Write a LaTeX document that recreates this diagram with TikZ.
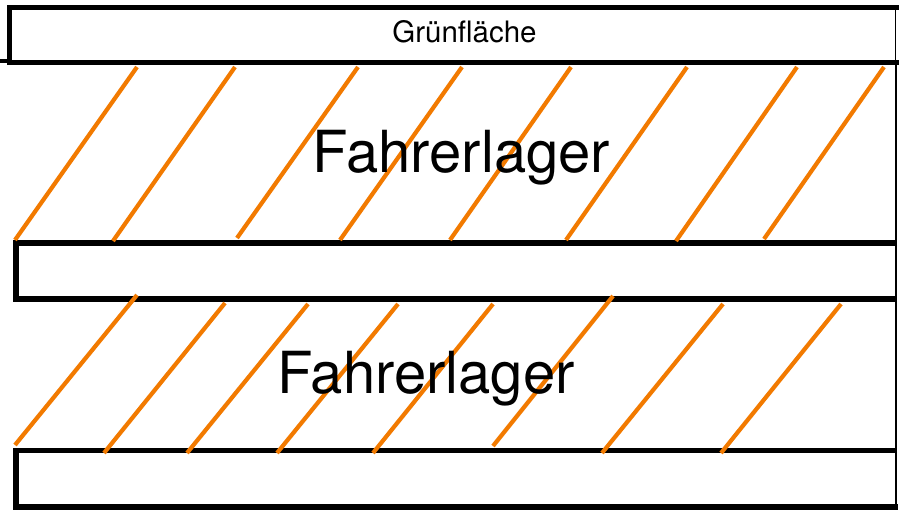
\documentclass[tikz,border=0pt]{standalone}
\usepackage{fontspec}
\setmainfont{TeX Gyre Heros}
\definecolor{hatch}{RGB}{242,122,0}
\begin{document}
\begin{tikzpicture}[x=1pt,y=-1pt,
  boxline/.style={draw=black,line width=5.5pt,line join=miter},
  edgeline/.style={draw=black,line width=2.7pt},
  hatchline/.style={draw=hatch,line width=4.2pt},
  bigtext/.style={anchor=base,inner sep=0pt,font=\fontsize{58}{58}\selectfont},
  smalltext/.style={anchor=base,inner sep=0pt,font=\fontsize{29.5}{29.5}\selectfont}]
\useasboundingbox[fill=white] (0,0) rectangle (899,517);
% boxes
\draw[boxline] (899,7.5) -- (9.5,7.5) -- (9.5,62.5) -- (899,62.5);
\draw[draw=black,line width=4pt] (0,61) -- (10,61);
\draw[draw=black,line width=1.3pt] (895.5,7.5) -- (895.5,62.5);
\draw[edgeline] (896,62.5) -- (896,509.5);
\draw[boxline] (897,243) -- (16,243) -- (16,299) -- (897,299);
\draw[boxline] (897,450.5) -- (16,450.5) -- (16,507) -- (897.5,507);
% upper hatching
\draw[hatchline] (15,240) -- (137,67);
\draw[hatchline] (113,241) -- (235,67);
\draw[hatchline] (237,238) -- (358,67);
\draw[hatchline] (340,240) -- (462,67);
\draw[hatchline] (450,240) -- (571,67);
\draw[hatchline] (566,240) -- (687,67);
\draw[hatchline] (676,241) -- (797,67);
\draw[hatchline] (764,239) -- (884,67);
% lower hatching
\draw[hatchline] (15,445) -- (137,295);
\draw[hatchline] (104,453) -- (225,303);
\draw[hatchline] (187,453) -- (308,304);
\draw[hatchline] (277,453) -- (398,304);
\draw[hatchline] (373,453) -- (493,304);
\draw[hatchline] (493,446) -- (613,296);
\draw[hatchline] (602,453) -- (723,304);
\draw[hatchline] (721,453) -- (841,304);
% labels
\node[smalltext] (gruen) at (464.5,42) {Grünfläche};
\node[bigtext] (fl1) at (461.5,172) {Fahrerlager};
\node[bigtext] (fl2) at (426,393) {Fahrerlager};
\end{tikzpicture}
\end{document}
